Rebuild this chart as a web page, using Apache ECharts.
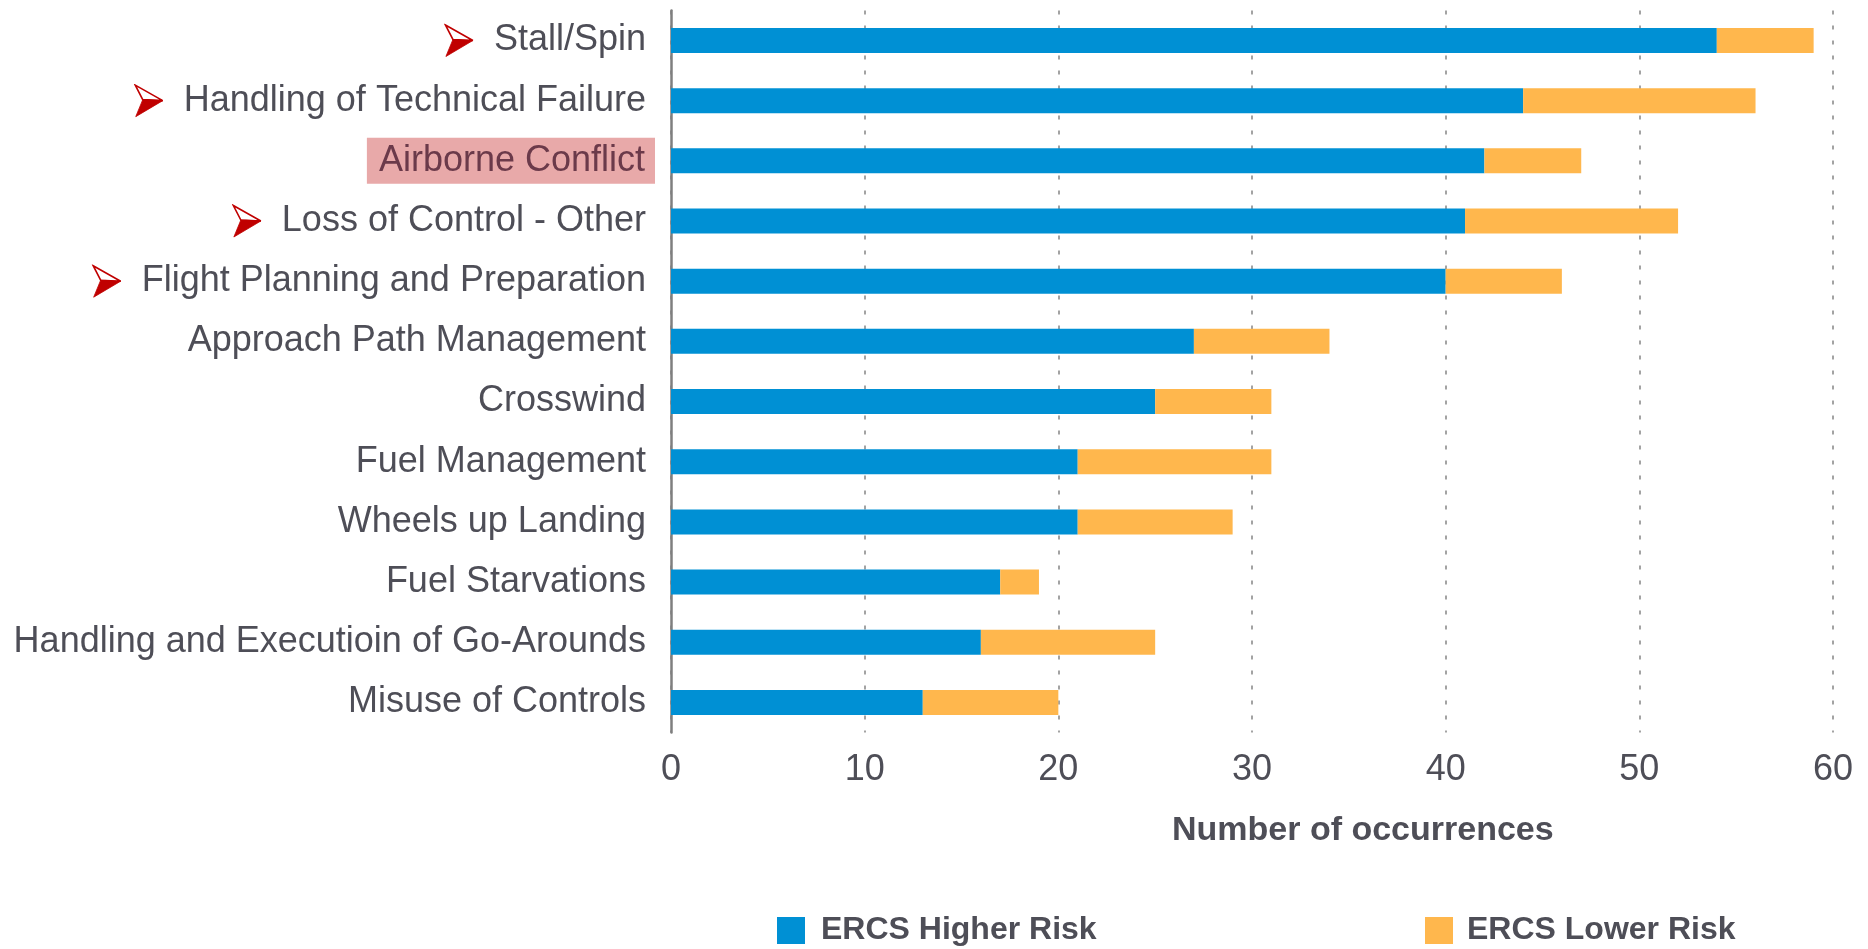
<!DOCTYPE html>
<html>
<head>
<meta charset="utf-8">
<script src="https://cdn.jsdelivr.net/npm/echarts@6/dist/echarts.min.js"></script>
<style>
  html, body { margin: 0; padding: 0; background: #ffffff; }
  #chart { width: 1868px; height: 949px; }
</style>
</head>
<body>
<div id="chart"></div>
<script>
const categories = [
  'Stall/Spin',
  'Handling of Technical Failure',
  'Airborne Conflict',
  'Loss of Control - Other',
  'Flight Planning and Preparation',
  'Approach Path Management',
  'Crosswind',
  'Fuel Management',
  'Wheels up Landing',
  'Fuel Starvations',
  'Handling and Executioin of Go-Arounds',
  'Misuse of Controls'
];
const higherRisk = [54, 44, 42, 41, 40, 27, 25, 21, 21, 17, 16, 13];
const lowerRisk  = [5, 12, 5, 11, 6, 7, 6, 10, 8, 2, 9, 7];
const seriesNames = ['ERCS Higher Risk', 'ERCS Lower Risk'];
const xTickLabels = ['0', '10', '20', '30', '40', '50', '60'];
const axisTitle = 'Number of occurrences';
const arrowed = ['Stall/Spin', 'Handling of Technical Failure', 'Loss of Control - Other', 'Flight Planning and Preparation'];
const highlighted = ['Airborne Conflict'];

const xMin = Number(xTickLabels[0]);
const xMax = Number(xTickLabels[xTickLabels.length - 1]);
const xStep = Number(xTickLabels[1]) - xMin;

const labelColor = '#4e4e57';

// red 3-D arrowhead icon (top half outlined, bottom half filled)
const arrowSvg =
  '<svg xmlns="http://www.w3.org/2000/svg" width="30" height="34" viewBox="0 0 30 34">' +
  '<polygon points="1.5,1.5 29,17 9,16" fill="#ffffff" stroke="#C00000" stroke-width="1.6" stroke-linejoin="miter"/>' +
  '<polygon points="9,16 29,17 2,33" fill="#C00000" stroke="#C00000" stroke-width="0.8"/>' +
  '</svg>';
const arrowImg = new Image();
arrowImg.src = 'data:image/svg+xml;charset=utf-8,' + encodeURIComponent(arrowSvg);

const chart = echarts.init(document.getElementById('chart'), null, { renderer: 'canvas' });

function buildOption() {
  return {
    animation: false,
    backgroundColor: '#ffffff',
    title: {
      text: axisTitle,
      left: 1172,
      top: 811,
      padding: 0,
      textStyle: {
        fontFamily: 'Liberation Sans',
        fontWeight: 'bold',
        fontSize: 34,
        lineHeight: 40,
        color: labelColor
      }
    },
    legend: [
      {
        data: [seriesNames[0]],
        left: 777,
        top: 911,
        padding: 0,
        itemWidth: 28,
        itemHeight: 27,
        icon: 'rect',
        textStyle: {
          fontFamily: 'Liberation Sans',
          fontWeight: 'bold',
          fontSize: 32,
          lineHeight: 39,
          color: labelColor,
          padding: [0, 0, 0, 11]
        }
      },
      {
        data: [seriesNames[1]],
        left: 1425,
        top: 911,
        padding: 0,
        itemWidth: 28,
        itemHeight: 27,
        icon: 'rect',
        textStyle: {
          fontFamily: 'Liberation Sans',
          fontWeight: 'bold',
          fontSize: 32,
          lineHeight: 39,
          color: labelColor,
          padding: [0, 0, 0, 9]
        }
      }
    ],
    grid: {
      left: 671,
      right: 35,
      top: 10.4,
      bottom: 216.5,
      containLabel: false
    },
    xAxis: {
      type: 'value',
      min: xMin,
      max: xMax,
      interval: xStep,
      axisLine: { show: false },
      axisTick: { show: false },
      axisLabel: {
        margin: 20,
        fontFamily: 'Liberation Sans',
        fontSize: 36,
        lineHeight: 36,
        color: labelColor,
        formatter: function (v) {
          const i = Math.round((v - xMin) / xStep);
          return xTickLabels[i] !== undefined ? xTickLabels[i] : '';
        }
      },
      splitLine: {
        show: true,
        lineStyle: { color: '#a3a3a3', width: 2, type: [4, 11] }
      }
    },
    yAxis: {
      type: 'category',
      data: categories,
      inverse: true,
      axisLine: { show: true, lineStyle: { color: '#7f7f7f', width: 2.5 } },
      axisTick: { show: false },
      splitLine: { show: false },
      axisLabel: {
        margin: 16,
        interval: 0,
        formatter: function (value) {
          if (highlighted.indexOf(value) >= 0) {
            return '{hl|' + value + '}';
          }
          if (arrowed.indexOf(value) >= 0) {
            return '{arr|}{gap|}{txt|' + value + '}';
          }
          return '{txt|' + value + '}';
        },
        rich: {
          txt: {
            fontFamily: 'Liberation Sans',
            fontSize: 36,
            lineHeight: 40,
            color: labelColor,
            padding: [0, 9, 0, 0]
          },
          hl: {
            fontFamily: 'Liberation Sans',
            fontSize: 36,
            lineHeight: 36,
            color: '#6b3a4a',
            backgroundColor: '#E8A9A9',
            padding: [5, 10, 5, 12]
          },
          arr: {
            width: 30,
            height: 34,
            backgroundColor: { image: arrowImg }
          },
          gap: {
            width: 20,
            height: 34
          }
        }
      }
    },
    series: [
      {
        name: seriesNames[0],
        type: 'bar',
        stack: 'total',
        barWidth: 25,
        itemStyle: { color: '#0090D4' },
        data: higherRisk
      },
      {
        name: seriesNames[1],
        type: 'bar',
        stack: 'total',
        barWidth: 25,
        itemStyle: { color: '#FFB74D' },
        data: lowerRisk
      }
    ]
  };
}

chart.setOption(buildOption());
arrowImg.onload = function () {
  chart.setOption(buildOption(), true);
};
</script>
</body>
</html>
